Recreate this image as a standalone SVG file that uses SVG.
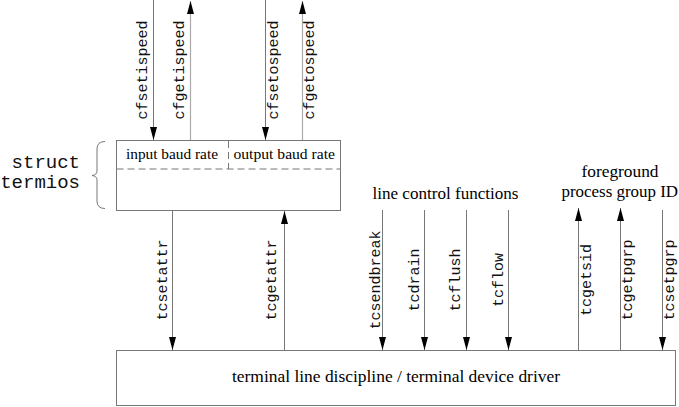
<svg xmlns="http://www.w3.org/2000/svg" width="679" height="407" viewBox="0 0 679 407">
<style>
.bg{fill:#fff}
.box{fill:#fff;stroke:#777;stroke-width:1}
.ln{stroke:#777;stroke-width:1;fill:none}
.lt{stroke:#aaa;stroke-width:1.2;fill:none}
.dash{stroke:#777;stroke-width:1;stroke-dasharray:7 4;fill:none}
.mono{font-family:"Liberation Mono","Courier New",monospace;font-size:15px;fill:#111}
.big{font-family:"Liberation Mono","Courier New",monospace;font-size:19px;fill:#111}
.serif{font-family:"Liberation Serif","Times New Roman",serif;font-size:16px;fill:#000}
.sm{font-size:14px}
</style>
<defs>
<marker id="ah" markerUnits="userSpaceOnUse" markerWidth="14" markerHeight="8" refX="13" refY="3.5" orient="auto">
<path d="M0,0 L13,3.5 L0,7 z" fill="#000"/>
</marker>
</defs>
<rect class="bg" x="0" y="0" width="679" height="407"/>
<g id="termios">
<rect class="box" x="116.5" y="140.5" width="224" height="70"/>
<line class="dash" x1="116.5" y1="169" x2="340.5" y2="169"/>
<line class="dash" x1="228.5" y1="141" x2="228.5" y2="169"/>
<text class="serif sm" x="126" y="158.5" textLength="92" lengthAdjust="spacingAndGlyphs">input baud rate</text>
<text class="serif sm" x="233.5" y="158.5" textLength="101.5" lengthAdjust="spacingAndGlyphs">output baud rate</text>
<path class="ln" d="M105,141.5 Q97,141.5 97,149 L97,171 Q97,175 92,175.5 Q97,176 97,180 L97,201 Q97,208.5 105,208.5"/>
<text class="big" x="80" y="168" text-anchor="end">struct</text>
<text class="big" x="80" y="188" text-anchor="end">termios</text>
</g>
<g id="driver">
<rect class="box" x="116.5" y="350.5" width="559" height="55"/>
<text class="serif" x="232" y="382" textLength="328" lengthAdjust="spacingAndGlyphs">terminal line discipline / terminal device driver</text>
</g>
<g id="labels">
<text class="serif" x="372.5" y="199" textLength="146" lengthAdjust="spacingAndGlyphs">line control functions</text>
<text class="serif" x="581.5" y="177" textLength="77" lengthAdjust="spacingAndGlyphs">foreground</text>
<text class="serif" x="561.5" y="196.5" textLength="116.5" lengthAdjust="spacingAndGlyphs">process group ID</text>
</g>
<g id="connectors">
<line class="ln" x1="153.5" y1="0" x2="153.5" y2="140" marker-end="url(#ah)"/>
<line class="lt" x1="190.5" y1="140" x2="190.5" y2="1" marker-end="url(#ah)"/>
<line class="ln" x1="265.5" y1="0" x2="265.5" y2="140" marker-end="url(#ah)"/>
<line class="lt" x1="302.5" y1="140" x2="302.5" y2="1" marker-end="url(#ah)"/>
<line class="ln" x1="172.5" y1="211" x2="172.5" y2="350" marker-end="url(#ah)"/>
<line class="ln" x1="284.5" y1="350" x2="284.5" y2="211" marker-end="url(#ah)"/>
<line class="ln" x1="382.5" y1="210" x2="382.5" y2="350" marker-end="url(#ah)"/>
<line class="ln" x1="424.5" y1="210" x2="424.5" y2="350" marker-end="url(#ah)"/>
<line class="ln" x1="466.5" y1="210" x2="466.5" y2="350" marker-end="url(#ah)"/>
<line class="ln" x1="508.5" y1="210" x2="508.5" y2="350" marker-end="url(#ah)"/>
<line class="ln" x1="578.5" y1="350" x2="578.5" y2="208" marker-end="url(#ah)"/>
<line class="ln" x1="620.5" y1="350" x2="620.5" y2="208" marker-end="url(#ah)"/>
<line class="ln" x1="662.5" y1="210" x2="662.5" y2="350" marker-end="url(#ah)"/>
<text class="mono" transform="translate(147,70) rotate(-90)" text-anchor="middle">cfsetispeed</text>
<text class="mono" transform="translate(184,70) rotate(-90)" text-anchor="middle">cfgetispeed</text>
<text class="mono" transform="translate(278,70) rotate(-90)" text-anchor="middle">cfsetospeed</text>
<text class="mono" transform="translate(314,70) rotate(-90)" text-anchor="middle">cfgetospeed</text>
<text class="mono" transform="translate(167,280) rotate(-90)" text-anchor="middle">tcsetattr</text>
<text class="mono" transform="translate(276,280) rotate(-90)" text-anchor="middle">tcgetattr</text>
<text class="mono" transform="translate(380,280) rotate(-90)" text-anchor="middle">tcsendbreak</text>
<text class="mono" transform="translate(419,280) rotate(-90)" text-anchor="middle">tcdrain</text>
<text class="mono" transform="translate(460,280) rotate(-90)" text-anchor="middle">tcflush</text>
<text class="mono" transform="translate(502.5,280) rotate(-90)" text-anchor="middle">tcflow</text>
<text class="mono" transform="translate(590.5,280) rotate(-90)" text-anchor="middle">tcgetsid</text>
<text class="mono" transform="translate(632,280) rotate(-90)" text-anchor="middle">tcgetpgrp</text>
<text class="mono" transform="translate(673.5,280) rotate(-90)" text-anchor="middle">tcsetpgrp</text>
</g>
</svg>
